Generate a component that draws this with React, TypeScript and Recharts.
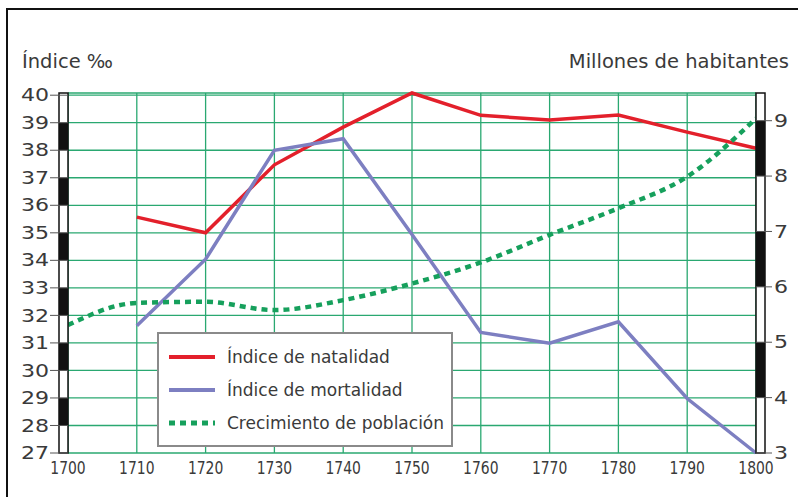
import { LineChart, Line, XAxis, YAxis, CartesianGrid, Legend } from "recharts"

// values
const years = [1700, 1710, 1720, 1730, 1740, 1750, 1760, 1770, 1780, 1790, 1800]
const natalidad = [null, 35.57, 35.0, 37.47, 38.84, 40.08, 39.27, 39.1, 39.28, 38.66, 38.07]
const mortalidad = [null, 31.62, 34.04, 38.0, 38.42, 34.94, 31.38, 30.99, 31.77, 28.98, 27.0]
const poblacion = [5.31, 5.71, 5.73, 5.58, 5.76, 6.06, 6.44, 6.94, 7.42, 7.99, 9.04]

const leftTicks = [27, 28, 29, 30, 31, 32, 33, 34, 35, 36, 37, 38, 39, 40]
const rightTicks = [3, 4, 5, 6, 7, 8, 9]
const seriesNames = ["Índice de natalidad", "Índice de mortalidad", "Crecimiento de población"]
const seriesColors = ["#e3202b", "#7d7fc1", "#16a05c"]

const chartData = years.map((year, i) => ({
  year,
  natalidad: natalidad[i],
  mortalidad: mortalidad[i],
  poblacion: poblacion[i],
}))

// layout
const W = 798
const H = 497
const margin = { top: 93, right: 8, bottom: 14, left: 8 }
const LEFT_W = 60
const RIGHT_W = 34
const X_H = 30
const plotLeft = margin.left + LEFT_W
const plotRight = W - margin.right - RIGHT_W
const plotTop = margin.top
const plotBottom = H - margin.bottom - X_H
const unitL = (plotBottom - plotTop) / 13
const unitR = unitL * 2
const BAR = 9

const FONT = "'DejaVu Sans', Verdana, sans-serif"
const TEXT = "#3a3a3a"
const GRID = "#2aa871"

function LeftTick(props: any) {
  const { y, payload } = props
  const v = payload.value
  return (
    <g>
      {v === 27 && (
        <rect x={plotLeft - BAR} y={plotTop} width={BAR} height={plotBottom - plotTop} fill="#fff" stroke="#111" strokeWidth={1.5} />
      )}
      {v % 2 === 0 && v < 40 && (
        <rect x={plotLeft - BAR} y={y - unitL} width={BAR} height={unitL} fill="#111" />
      )}
      <line x1={plotLeft - BAR - 9} x2={plotLeft} y1={y} y2={y} stroke="#555" strokeWidth={1} />
      <text
        transform={`translate(${plotLeft - BAR - 10},${y}) scale(1.3,1)`}
        dy="0.36em"
        textAnchor="end"
        fontSize={17}
        fontFamily={FONT}
        fill={TEXT}
      >
        {v}
      </text>
    </g>
  )
}

function RightTick(props: any) {
  const { y, payload } = props
  const v = payload.value
  return (
    <g>
      {v === 3 && (
        <rect x={plotRight} y={plotTop} width={BAR} height={plotBottom - plotTop} fill="#fff" stroke="#111" strokeWidth={1.5} />
      )}
      {v % 2 === 0 && (
        <rect x={plotRight} y={y - unitR} width={BAR} height={unitR} fill="#111" />
      )}
      <line x1={plotRight} x2={plotRight + BAR + 7} y1={y} y2={y} stroke="#555" strokeWidth={1} />
      <text
        transform={`translate(${plotRight + BAR + 9},${y}) scale(1.3,1)`}
        dy="0.36em"
        textAnchor="start"
        fontSize={17}
        fontFamily={FONT}
        fill={TEXT}
      >
        {v}
      </text>
    </g>
  )
}

function XTick(props: any) {
  const { x, y, payload } = props
  return (
    <text
      transform={`translate(${x},${y}) scale(0.82,1)`}
      dy="0.75em"
      textAnchor="middle"
      fontSize={17}
      fontFamily={FONT}
      fill={TEXT}
    >
      {payload.value}
    </text>
  )
}

function LegendBox() {
  return (
    <div
      style={{
        width: 292,
        height: 105,
        border: "2px solid #8a8a8a",
        background: "#fff",
        boxSizing: "content-box",
        fontFamily: FONT,
        fontSize: 17,
        color: TEXT,
        paddingTop: 6,
      }}
    >
      {seriesNames.map((name, i) => (
        <div key={name} style={{ display: "flex", alignItems: "center", height: 33 }}>
          <svg width={58} height={10} style={{ marginLeft: 10 }}>
            <line
              x1={0}
              x2={46}
              y1={5}
              y2={5}
              stroke={seriesColors[i]}
              strokeWidth={i === 2 ? 5 : 4}
              strokeDasharray={i === 2 ? "6 5" : undefined}
            />
          </svg>
          <span>{name}</span>
        </div>
      ))}
    </div>
  )
}

export default function App() {
  return (
    <div style={{ position: "absolute", left: 0, top: 0, width: W, height: H, background: "#fff", overflow: "hidden" }}>
      <div
        style={{
          position: "absolute",
          left: 6,
          top: 8,
          width: W,
          height: H,
          borderLeft: "2px solid #111",
          borderTop: "2px solid #111",
        }}
      />
      <div style={{ position: "absolute", left: 22, top: 50, fontFamily: FONT, fontSize: 19.5, color: TEXT }}>
        Índice ‰
      </div>
      <div style={{ position: "absolute", right: 9, top: 50, fontFamily: FONT, fontSize: 19.5, color: TEXT }}>
        Millones de habitantes
      </div>
      <LineChart width={W} height={H} data={chartData} margin={margin}>
        <CartesianGrid yAxisId="left" stroke={GRID} strokeWidth={1.3} />
        <XAxis
          dataKey="year"
          type="number"
          domain={[1700, 1800]}
          ticks={years}
          height={X_H}
          tickLine={false}
          axisLine={false}
          tick={<XTick />}
        />
        <YAxis
          yAxisId="left"
          orientation="left"
          domain={[27, 40]}
          ticks={leftTicks}
          width={LEFT_W}
          interval={0}
          tickLine={false}
          axisLine={false}
          tick={<LeftTick />}
        />
        <YAxis
          yAxisId="right"
          orientation="right"
          domain={[3, 9.5]}
          ticks={rightTicks}
          width={RIGHT_W}
          interval={0}
          tickLine={false}
          axisLine={false}
          tick={<RightTick />}
        />
        <Line
          yAxisId="left"
          dataKey="natalidad"
          name={seriesNames[0]}
          type="linear"
          stroke={seriesColors[0]}
          strokeWidth={3.5}
          dot={false}
          connectNulls
          isAnimationActive={false}
        />
        <Line
          yAxisId="left"
          dataKey="mortalidad"
          name={seriesNames[1]}
          type="linear"
          stroke={seriesColors[1]}
          strokeWidth={3.5}
          dot={false}
          connectNulls
          isAnimationActive={false}
        />
        <Line
          yAxisId="right"
          dataKey="poblacion"
          name={seriesNames[2]}
          type="monotone"
          stroke={seriesColors[2]}
          strokeWidth={4.5}
          strokeDasharray="6 5"
          dot={false}
          isAnimationActive={false}
        />
        <Legend
          layout="vertical"
          align="center"
          verticalAlign="middle"
          content={<LegendBox />}
          wrapperStyle={{ left: 157, top: 332, width: 296, height: 113 }}
        />
      </LineChart>
    </div>
  )
}
